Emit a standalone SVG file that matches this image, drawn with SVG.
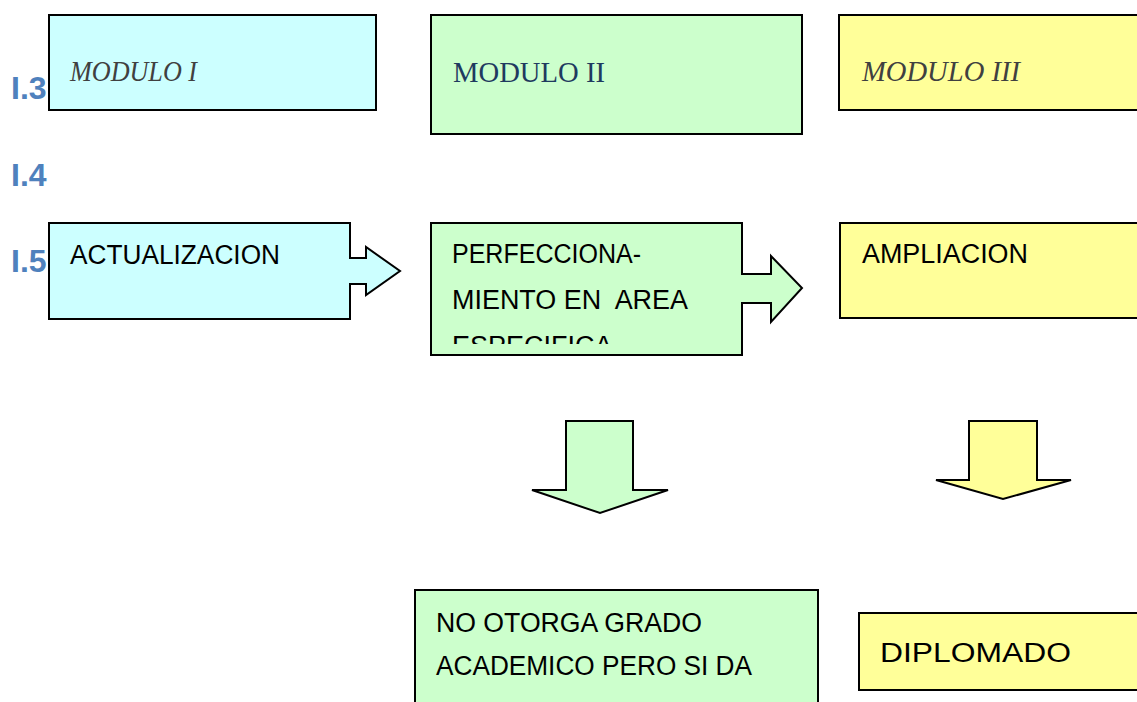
<svg xmlns="http://www.w3.org/2000/svg" width="1137" height="702" viewBox="0 0 1137 702">
<defs>
<style>
.shape{stroke:#000;stroke-width:2;stroke-linejoin:miter}
.cyan{fill:#ccffff}
.green{fill:#ccffcc}
.yellow{fill:#ffff99}
.mod{font-family:"Liberation Serif","DejaVu Serif",serif;font-size:29px}
.it{font-style:italic;fill:#404040}
.blue{fill:#1f3a5f}
.lbl{font-family:"Liberation Sans",Arial,sans-serif;font-size:27px;fill:#000}
.num{font-family:"Liberation Sans",Arial,sans-serif;font-size:32px;font-weight:bold;fill:#4f81bd}
</style>
<clipPath id="clipP"><rect x="431" y="223" width="312" height="121"/></clipPath>
</defs>
<g id="labels">
<text class="num" x="11" y="99">I.3</text>
<text class="num" x="11" y="186">I.4</text>
<text class="num" x="11" y="272">I.5</text>
</g>
<g id="modulo1">
<rect class="shape cyan" x="49" y="15" width="327" height="95"/>
<text class="mod it" x="70" y="81" textLength="127" lengthAdjust="spacingAndGlyphs">MODULO I</text>
</g>
<g id="modulo2">
<rect class="shape green" x="431" y="15" width="371" height="119"/>
<text class="mod blue" x="453" y="82" textLength="152" lengthAdjust="spacingAndGlyphs">MODULO II</text>
</g>
<g id="modulo3">
<rect class="shape yellow" x="839" y="15" width="310" height="95"/>
<text class="mod it" x="862" y="81" textLength="158" lengthAdjust="spacingAndGlyphs">MODULO III</text>
</g>
<g id="actualizacion">
<polygon class="shape cyan" points="49,223 350,223 350,258 366,258 366,247 400,271 366,295 366,284 350,284 350,319 49,319"/>
<text class="lbl" x="70" y="264" textLength="210" lengthAdjust="spacingAndGlyphs">ACTUALIZACION</text>
</g>
<g id="perfeccionamiento">
<polygon class="shape green" points="431,223 742,223 742,274 771,274 771,256 802,288 771,322 771,303 742,303 742,355 431,355"/>
<g clip-path="url(#clipP)">
<text class="lbl" x="452" y="263" textLength="189" lengthAdjust="spacingAndGlyphs">PERFECCIONA-</text>
<text class="lbl" x="452" y="309" xml:space="preserve" textLength="236" lengthAdjust="spacingAndGlyphs">MIENTO EN  AREA</text>
<text class="lbl" x="452" y="355">ESPECIFICA</text>
</g>
</g>
<g id="ampliacion">
<rect class="shape yellow" x="840" y="223" width="310" height="95"/>
<text class="lbl" x="862" y="263" textLength="166" lengthAdjust="spacingAndGlyphs">AMPLIACION</text>
</g>
<g id="connectors">
<polygon class="shape green" points="566,421 633,421 633,490 668,490 600,513 532,490 566,490"/>
<polygon class="shape yellow" points="969,421 1037,421 1037,480 1071,480 1003,499 936,480 969,480"/>
</g>
<g id="nootorga">
<rect class="shape green" x="415" y="590" width="403" height="120"/>
<text class="lbl" x="436" y="632" textLength="266" lengthAdjust="spacingAndGlyphs">NO OTORGA GRADO</text>
<text class="lbl" x="436" y="675" textLength="316" lengthAdjust="spacingAndGlyphs">ACADEMICO PERO SI DA</text>
</g>
<g id="diplomado">
<rect class="shape yellow" x="859" y="613" width="290" height="77"/>
<text class="lbl" x="880" y="662" font-size="36" textLength="191" lengthAdjust="spacingAndGlyphs">DIPLOMADO</text>
</g>
</svg>
